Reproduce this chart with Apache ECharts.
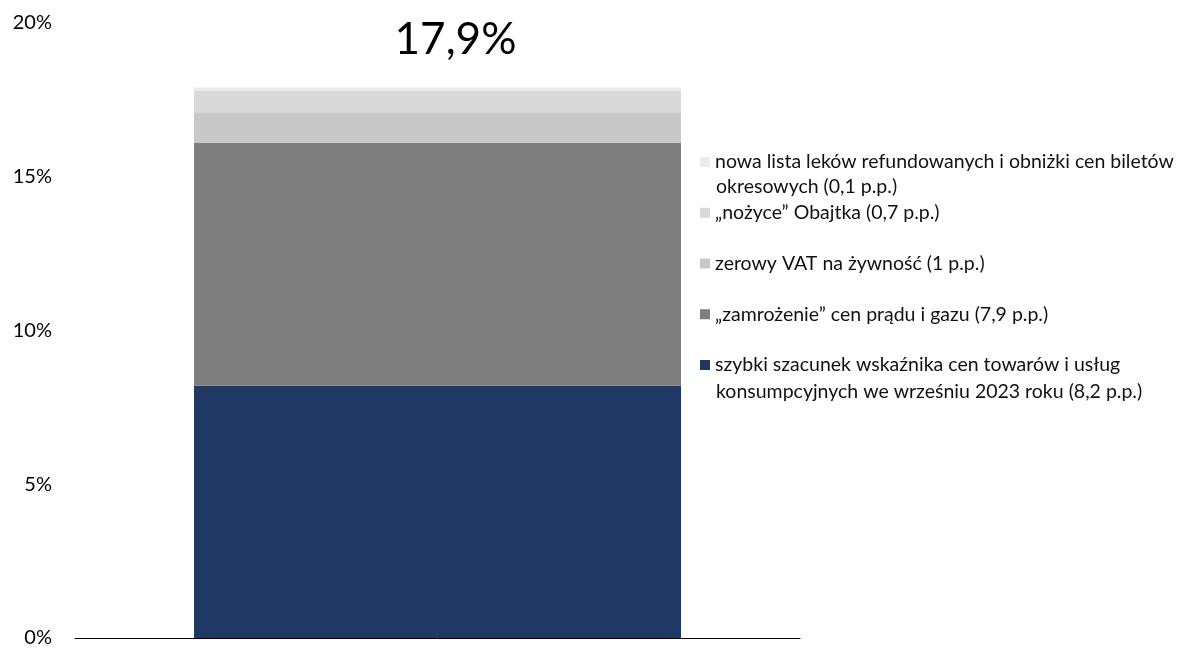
<!DOCTYPE html>
<html>
<head>
<meta charset="utf-8">
<script src="https://cdn.jsdelivr.net/npm/echarts@6/dist/echarts.min.js"></script>
<style>
html, body { margin: 0; padding: 0; background: #fff; }
#chart { width: 1179px; height: 648px; }
</style>
</head>
<body>
<div id="chart"></div>
<script>
// dane: od dołu słupka do góry
var CATEGORIES = ['wrzesień 2023'];
var VALUES = [8.2, 7.9, 1, 0.7, 0.1];
var NAME_LINE1 = [
    'szybki szacunek wskaźnika cen towarów i usług',
    '\u201ezamrożenie\u201d cen prądu i gazu (7,9 p.p.)',
    'zerowy VAT na żywność (1 p.p.)',
    '\u201enożyce\u201d Obajtka (0,7 p.p.)',
    'nowa lista leków refundowanych i obniżki cen biletów'
];
var NAME_LINE2 = [
    'konsumpcyjnych we wrześniu 2023 roku (8,2 p.p.)',
    '',
    '',
    '',
    'okresowych (0,1 p.p.)'
];
var COLORS = ['#203864', '#7f7f7f', '#c8c8c8', '#d9d9d9', '#ebebeb'];
var Y_MIN = 0, Y_MAX = 20, Y_STEP = 5;

var FONT = 'Lato, "Open Sans", sans-serif';

function fullName(i) {
    return NAME_LINE2[i] ? NAME_LINE1[i] + ' ' + NAME_LINE2[i] : NAME_LINE1[i];
}

var total = 0;
for (var i = 0; i < VALUES.length; i++) total += VALUES[i];
var totalText = total.toFixed(1).replace('.', ',') + '%';

var series = [];
for (var i = 0; i < VALUES.length; i++) {
    var s = {
        name: fullName(i),
        type: 'bar',
        stack: 'cpi',
        barWidth: 487,
        itemStyle: { color: COLORS[i] },
        data: [VALUES[i]]
    };
    if (i == VALUES.length - 1) {
        s.label = {
            show: true,
            position: 'top',
            distance: 26,
            offset: [18, 0],
            formatter: function () { return totalText; },
            fontFamily: FONT,
            fontSize: 44,
            color: '#000'
        };
    }
    series.push(s);
}

// legenda: od góry do dołu
var legendData = [];
for (var i = VALUES.length - 1; i >= 0; i--) legendData.push(fullName(i));

var myChart = echarts.init(document.getElementById('chart'));
myChart.setOption({
    animation: false,
    grid: { left: 75, right: 379, top: 23, bottom: 9 },
    xAxis: {
        type: 'category',
        data: CATEGORIES,
        axisLine: { lineStyle: { color: '#000', width: 1 } },
        axisTick: { show: false },
        axisLabel: { show: false }
    },
    yAxis: {
        type: 'value',
        min: Y_MIN,
        max: Y_MAX,
        interval: Y_STEP,
        splitLine: { show: false },
        axisLine: { show: false },
        axisTick: { show: false },
        axisLabel: {
            formatter: '{value}%',
            margin: 23,
            fontFamily: FONT,
            fontSize: 20,
            color: '#000'
        }
    },
    legend: {
        orient: 'vertical',
        left: 700,
        top: 151,
        padding: 0,
        itemWidth: 10,
        itemHeight: 10,
        itemGap: 28.75,
        icon: 'rect',
        data: legendData,
        formatter: function (name) {
            for (var i = 0; i < VALUES.length; i++) {
                if (fullName(i) == name) return NAME_LINE1[i];
            }
            return name;
        },
        textStyle: { fontFamily: FONT, fontSize: 19.5, lineHeight: 22, color: '#111' }
    },
    graphic: [
        { type: 'text', left: 716, top: 177, style: { text: NAME_LINE2[4], font: '19.5px ' + FONT, fill: '#111' } },
        { type: 'text', left: 716, top: 382, style: { text: NAME_LINE2[0], font: '19.5px ' + FONT, fill: '#111' } }
    ],
    series: series
});
</script>
</body>
</html>
